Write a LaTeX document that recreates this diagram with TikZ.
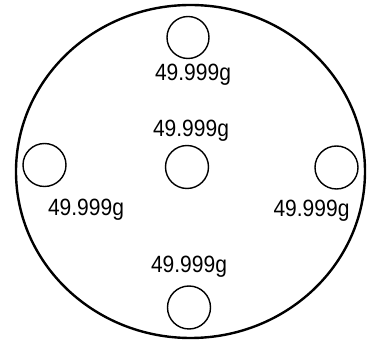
\documentclass[tikz,border=0pt]{standalone}
\usepackage{fontspec}
\setmainfont{Liberation Sans}
\begin{document}
\begin{tikzpicture}[x=1pt,y=-1pt,
    mass/.style={font=\fontsize{21}{25}\selectfont,inner sep=0pt,yscale=1.12}]
    \useasboundingbox (0,0) rectangle (370,347);
    \draw[line width=2.4pt] (190.5,171.5) ellipse [x radius=174.5,y radius=166.5];
    \draw[line width=1.4pt] (188,37.5) circle (21);
    \draw[line width=1.4pt] (44.5,165) circle (21.5);
    \draw[line width=1.4pt] (187,167) circle (21.5);
    \draw[line width=1.4pt] (336.5,167.5) circle (21.5);
    \draw[line width=1.4pt] (189,307.5) circle (21.5);
    \node[mass] (wtop) at (193,75) {49.999g};
    \node[mass] (wmid) at (191,131) {49.999g};
    \node[mass] (wleft) at (86,210) {49.999g};
    \node[mass] (wright) at (311.5,210.5) {49.999g};
    \node[mass] (wbot) at (189,267) {49.999g};
\end{tikzpicture}
\end{document}
